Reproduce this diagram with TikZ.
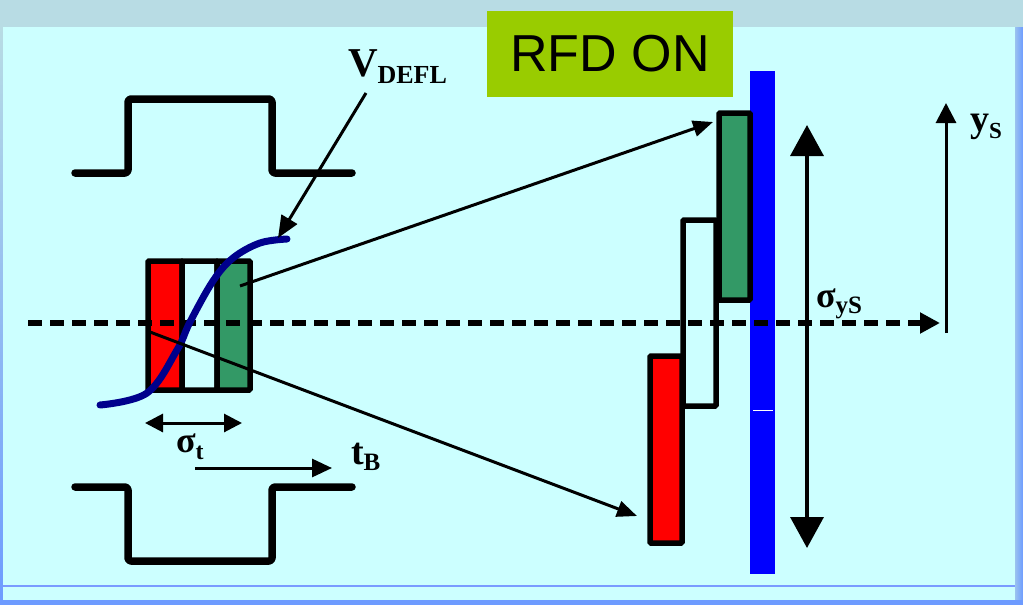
\documentclass[tikz,border=0pt]{standalone}
\usepackage{fontspec}
\setmainfont{Liberation Serif}
\newfontfamily\arialf{Liberation Sans}
\usetikzlibrary{arrows.meta}
\definecolor{bgcyan}{HTML}{CCFFFF}
\definecolor{topband}{HTML}{B8DCE4}
\definecolor{edgeblue}{HTML}{6D9BFF}
\definecolor{thinblue}{HTML}{7A9BFF}
\definecolor{rfdgreen}{HTML}{99CC00}
\definecolor{cellgreen}{HTML}{339966}
\definecolor{curveblue}{HTML}{00008C}
\definecolor{barblue}{HTML}{0000FF}
\tikzset{
  wg/.style={line width=7.5pt, line cap=round, line join=round, rounded corners=3pt},
  cellbox/.style={draw=black, line width=5.5pt, inner sep=0pt, outer sep=0pt, rounded corners=1pt},
  conn/.style={line width=3pt, -{Triangle[length=20pt,width=16pt]}},
  lbl/.style={inner sep=0pt, outer sep=0pt, anchor=base west, font=\bfseries},
}
\begin{document}
\begin{tikzpicture}[x=1pt,y=-1pt]
\useasboundingbox (0,0) rectangle (1023,605);
% background
\fill[topband] (0,0) rectangle (1023,605);
\shade[top color=topband, bottom color=edgeblue] (0,27) rectangle (3,605);
\shade[left color=topband!60!edgeblue, right color=edgeblue] (1015,27) rectangle (1023,605);
\fill[bgcyan] (3,27) rectangle (1015,600);
\fill[edgeblue] (0,600) rectangle (1023,605);
\draw[thinblue, line width=1.5pt] (3,586) -- (1015,586);

% RFD ON box
\node[fill=rfdgreen, minimum width=246pt, minimum height=86pt, inner sep=0pt] (rfd) at (610,54)
  {\arialf\fontsize{52}{52}\selectfont RFD ON};

% waveguide walls
\draw[wg] (75,173) -- (128,173) -- (128,99) -- (272,99) -- (272,173) -- (352,173);
\draw[wg] (75,487) -- (128,487) -- (128,561) -- (272,561) -- (272,487) -- (352,487);

% bunch cells (left)
\node[cellbox, fill=red, minimum width=34pt, minimum height=129pt] (bR) at (165,325.5) {};
\node[cellbox, minimum width=35pt, minimum height=129pt] (bW) at (199.5,325.5) {};
\node[cellbox, fill=cellgreen, minimum width=33pt, minimum height=129pt] (bG) at (233.5,325.5) {};

% blue screen bar
\fill[barblue] (750,71) rectangle (775,574);
\draw[white, line width=0.8pt] (753,410) -- (773,410);

% screen cells
\node[cellbox, minimum width=33pt, minimum height=186pt] (sW) at (699.5,313) {};
\node[cellbox, fill=cellgreen, minimum width=31pt, minimum height=187pt] (sG) at (734.5,206.5) {};
\node[cellbox, fill=red, minimum width=32pt, minimum height=187pt] (sR) at (666,449.5) {};

% dashed axis
\coordinate (axL) at (28,323);
\coordinate (axR) at (940,323);
\draw[line width=5.5pt, dash pattern=on 14pt off 8pt, -{Triangle[length=20pt,width=20pt]}] (axL) -- (axR);

% deflecting voltage curve
\draw[curveblue, line width=7pt, line cap=round] plot[smooth, tension=0.6] coordinates
  {(100,405) (147,393) (177,350) (190,322) (213,281) (233,258) (260,243) (287,239)};

% connectors from bunch to screen
\coordinate (gsrc) at (240,286);
\coordinate (gdst) at (713,122);
\coordinate (rsrc) at (150,332);
\coordinate (rdst) at (637,516);
\draw[conn] (gsrc) -- (gdst);
\draw[conn] (rsrc) -- (rdst);

% V_DEFL label and arrow
\node[lbl] (vdefl) at (348,76) {\fontsize{41}{41}\selectfont V\raisebox{-7pt}{\fontsize{26}{26}\selectfont DEFL}};
\coordinate (vsrc) at (366,93);
\coordinate (vdst) at (278,238);
\draw[line width=3pt, -{Triangle[length=22pt,width=18pt]}] (vsrc) -- (vdst);

% sigma_t arrow
\coordinate (stL) at (145,423);
\coordinate (stR) at (242,423);
\draw[line width=3pt, {Triangle[length=18pt,width=18pt]}-{Triangle[length=18pt,width=18pt]}] (stL) -- (stR);
\node[lbl] (sigt) at (176,452) {\fontsize{36}{36}\selectfont σ\raisebox{-7pt}{\fontsize{24}{24}\selectfont t}};

% t_B arrow
\coordinate (tbL) at (195,468);
\coordinate (tbR) at (332,468);
\draw[line width=3pt, -{Triangle[length=20pt,width=18pt]}] (tbL) -- (tbR);
\node[lbl] (tb) at (351,464) {\fontsize{38}{38}\selectfont t\raisebox{-6pt}{\fontsize{25}{25}\selectfont B}};

% sigma_yS double arrow
\coordinate (syT) at (807,125);
\coordinate (syB) at (807,548);
\draw[line width=3.5pt, {Triangle[length=31pt,width=33pt]}-{Triangle[length=31pt,width=33pt]}] (syT) -- (syB);
\node[lbl] (sigy) at (816,307) {\fontsize{36}{36}\selectfont σ\raisebox{-6pt}{\fontsize{25}{25}\selectfont yS}};

% y_S axis arrow
\coordinate (ysB) at (946,333);
\coordinate (ysT) at (946,103);
\draw[line width=3pt, -{Triangle[length=20pt,width=20pt]}] (ysB) -- (ysT);
\node[lbl] (ys) at (970,131) {\fontsize{38}{38}\selectfont y\raisebox{-7pt}{\fontsize{23}{23}\selectfont S}};
\end{tikzpicture}
\end{document}
